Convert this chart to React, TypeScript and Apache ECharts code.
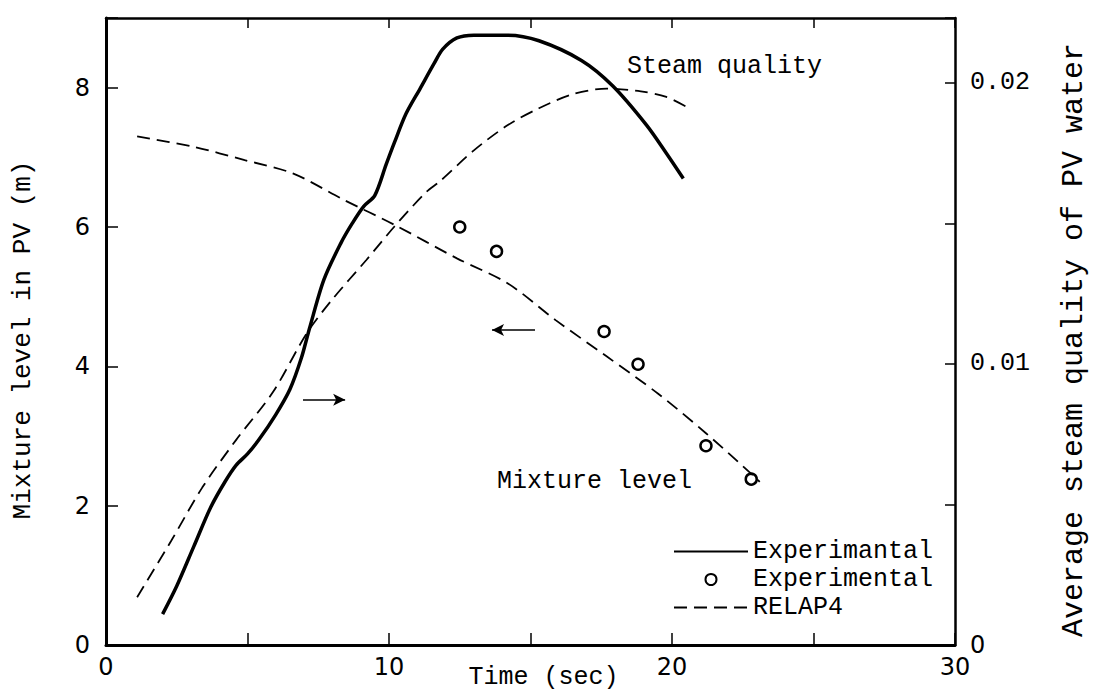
import { useEffect, useRef } from "react";
import * as echarts from "echarts";

// Measured average steam quality (solid line), right axis
const qualityExpTime = [2.0, 2.5, 3.1, 3.7, 4.2, 4.6, 5.0, 5.4, 6.0, 6.5, 6.9, 7.2, 7.7, 8.3, 8.7, 9.1, 9.5, 9.9, 10.2, 10.6, 11.1, 11.6, 11.9, 12.4, 13.0, 14.2, 15.3, 16.8, 17.9, 19.1, 19.8, 20.4];
const qualityExp = [0.0011, 0.0021, 0.0035, 0.0049, 0.0058, 0.0064, 0.0068, 0.0073, 0.0082, 0.0091, 0.0102, 0.0113, 0.013, 0.0143, 0.015, 0.0156, 0.016, 0.0171, 0.0179, 0.0189, 0.0198, 0.0207, 0.0212, 0.0216, 0.0217, 0.0217, 0.0215, 0.0208, 0.0199, 0.0185, 0.0175, 0.0166];

// RELAP4 steam quality (dashed), right axis
const qualityCalcTime = [1.1, 2.3, 3.4, 4.6, 5.9, 7.1, 8.0, 9.2, 10.2, 11.3, 11.8, 13.0, 14.2, 15.3, 16.5, 17.7, 18.9, 19.8, 20.6];
const qualityCalc = [0.0017, 0.0037, 0.0056, 0.0073, 0.009, 0.0111, 0.0123, 0.0137, 0.0149, 0.0161, 0.0165, 0.0176, 0.0185, 0.0191, 0.0196, 0.0198, 0.0197, 0.0195, 0.0191];

// RELAP4 mixture level (dashed), left axis
const levelCalcTime = [1.1, 3.1, 4.9, 6.6, 8.4, 10.2, 12.4, 14.2, 15.9, 17.7, 19.5, 21.2, 22.9, 23.1];
const levelCalc = [7.3, 7.15, 6.96, 6.77, 6.39, 6.03, 5.55, 5.19, 4.66, 4.14, 3.61, 3.04, 2.42, 2.34];

// Measured mixture level (circles), left axis
const levelExpTime = [12.5, 13.8, 17.6, 18.8, 21.2, 22.8];
const levelExp = [6.0, 5.65, 4.5, 4.03, 2.86, 2.38];

// Direction arrows: [x0, x1, level]
const arrowRight = [6.96, 8.45, 3.52];
const arrowLeft = [15.16, 13.64, 4.52];

const xTickLabels = [0, 10, 20, 30];
const leftTickLabels = [0, 2, 4, 6, 8];
const rightTickLabels = [0, 0.01, 0.02];

const MONO = "Liberation Mono";
const SANS = "DejaVu Sans";

const zip = (a: number[], b: number[]) => a.map((v, i) => [v, b[i]]);
const near = (list: number[], v: number) => list.some((t) => Math.abs(t - v) < 1e-7);

export default function App() {
  const ref = useRef<HTMLDivElement>(null);

  useEffect(() => {
    const chart = echarts.init(ref.current!, null, { renderer: "svg" });
    const axisColor = "#000";
    const dash = [13, 7];

    chart.setOption({
      animation: false,
      backgroundColor: "#fff",
      grid: {
        left: 106,
        right: 147,
        top: 18,
        bottom: 47,
        containLabel: false,
        outerBoundsMode: "none",
      },
      xAxis: [
        {
          type: "value",
          position: "bottom",
          min: 0,
          max: 30,
          interval: 5,
          axisLine: { show: true, onZero: false, lineStyle: { color: axisColor, width: 3 } },
          axisTick: { show: true, inside: true, length: 12, lineStyle: { color: axisColor, width: 1.5 } },
          axisLabel: {
            interval: 0,
            margin: 10,
            color: "#000",
            fontFamily: SANS,
            fontSize: 24,
            formatter: (v: number) => (near(xTickLabels, v) ? String(v) : ""),
          },
          splitLine: { show: false },
          name: "Time (sec)",
          nameLocation: "middle",
          nameGap: 20,
          nameMoveOverlap: false,
          nameTextStyle: { color: "#000", fontFamily: MONO, fontSize: 25, padding: [0, 0, 0, 26] },
        },
        {
          type: "value",
          position: "top",
          min: 0,
          max: 30,
          interval: 5,
          axisLine: { show: true, onZero: false, lineStyle: { color: axisColor, width: 2.5 } },
          axisTick: { show: true, inside: true, length: 10, lineStyle: { color: axisColor, width: 1.5 } },
          axisLabel: { show: false },
          splitLine: { show: false },
        },
      ],
      yAxis: [
        {
          type: "value",
          position: "left",
          min: 0,
          max: 9,
          interval: 2,
          axisLine: { show: true, onZero: false, lineStyle: { color: axisColor, width: 3 } },
          axisTick: { show: true, inside: true, length: 12, lineStyle: { color: axisColor, width: 1.5 } },
          axisLabel: {
            margin: 16,
            color: "#000",
            fontFamily: SANS,
            fontSize: 24,
            formatter: (v: number) => (near(leftTickLabels, v) ? String(v) : ""),
          },
          splitLine: { show: false },
        },
        {
          type: "value",
          position: "right",
          min: 0,
          max: 0.02231,
          interval: 0.005,
          axisLine: { show: true, onZero: false, lineStyle: { color: axisColor, width: 2.5 } },
          axisTick: { show: true, inside: true, length: 10, lineStyle: { color: axisColor, width: 1.5 } },
          axisLabel: {
            margin: 15,
            color: "#000",
            fontFamily: MONO,
            fontSize: 25,
            formatter: (v: number) => {
              if (!near(rightTickLabels, v)) return "";
              if (Math.abs(v) < 1e-9) return "{z|0}";
              return v.toFixed(2);
            },
            rich: { z: { fontFamily: SANS, fontSize: 24, color: "#000" } },
          },
          splitLine: { show: false },
        },
      ],
      legend: {
        orient: "vertical",
        left: 673,
        top: 539,
        padding: 0,
        itemWidth: 74,
        itemHeight: 11,
        itemGap: 3,
        selectedMode: false,
        textStyle: { color: "#000", fontFamily: MONO, fontSize: 25, lineHeight: 25 },
        data: [
          { name: "Experimantal", itemStyle: { opacity: 0 } },
          { name: "Experimental" },
          { name: "RELAP4", itemStyle: { opacity: 0 } },
        ],
      },
      series: [
        {
          name: "Experimantal",
          type: "line",
          yAxisIndex: 1,
          data: zip(qualityExpTime, qualityExp),
          smooth: 0.3,
          symbol: "none",
          lineStyle: { color: "#000", width: 3.5 },
          itemStyle: { color: "#000" },
        },
        {
          name: "RELAP4",
          type: "line",
          yAxisIndex: 1,
          data: zip(qualityCalcTime, qualityCalc),
          smooth: 0.3,
          symbol: "none",
          lineStyle: { color: "#000", width: 1.8, type: dash },
          itemStyle: { color: "#000" },
        },
        {
          name: "RELAP4",
          type: "line",
          yAxisIndex: 0,
          data: zip(levelCalcTime, levelCalc),
          smooth: 0.3,
          symbol: "none",
          lineStyle: { color: "#000", width: 1.8, type: dash },
          itemStyle: { color: "#000" },
          markLine: {
            silent: true,
            symbol: ["none", "arrow"],
            symbolSize: [9, 12],
            label: { show: false },
            lineStyle: { color: "#000", width: 1.6, type: "solid" },
            data: [
              [{ coord: [arrowRight[0], arrowRight[2]] }, { coord: [arrowRight[1], arrowRight[2]] }],
              [{ coord: [arrowLeft[0], arrowLeft[2]] }, { coord: [arrowLeft[1], arrowLeft[2]] }],
            ],
          },
        },
        {
          name: "Experimental",
          type: "scatter",
          yAxisIndex: 0,
          data: zip(levelExpTime, levelExp),
          symbol: "circle",
          symbolSize: 11,
          itemStyle: { color: "#fff", borderColor: "#000", borderWidth: 2.5, opacity: 1 },
        },
      ],
      graphic: [
        {
          type: "text",
          left: 627,
          top: 54,
          style: { text: "Steam quality", fill: "#000", fontFamily: MONO, fontSize: 25 },
        },
        {
          type: "text",
          left: 497,
          top: 469,
          style: { text: "Mixture level", fill: "#000", fontFamily: MONO, fontSize: 25 },
        },
        {
          type: "text",
          x: 23,
          y: 340,
          rotation: Math.PI / 2,
          style: {
            text: "Mixture level in PV (m)",
            fill: "#000",
            fontFamily: MONO,
            fontSize: 26,
            align: "center",
            verticalAlign: "middle",
          },
        },
        {
          type: "text",
          x: 1074,
          y: 340,
          rotation: Math.PI / 2,
          style: {
            text: "Average steam quality of PV water",
            fill: "#000",
            fontFamily: MONO,
            fontSize: 30,
            align: "center",
            verticalAlign: "middle",
          },
        },
      ],
    });

    return () => chart.dispose();
  }, []);

  return (
    <div
      ref={ref}
      style={{ position: "absolute", left: 0, top: 0, width: 1102, height: 692, background: "#fff" }}
    />
  );
}
